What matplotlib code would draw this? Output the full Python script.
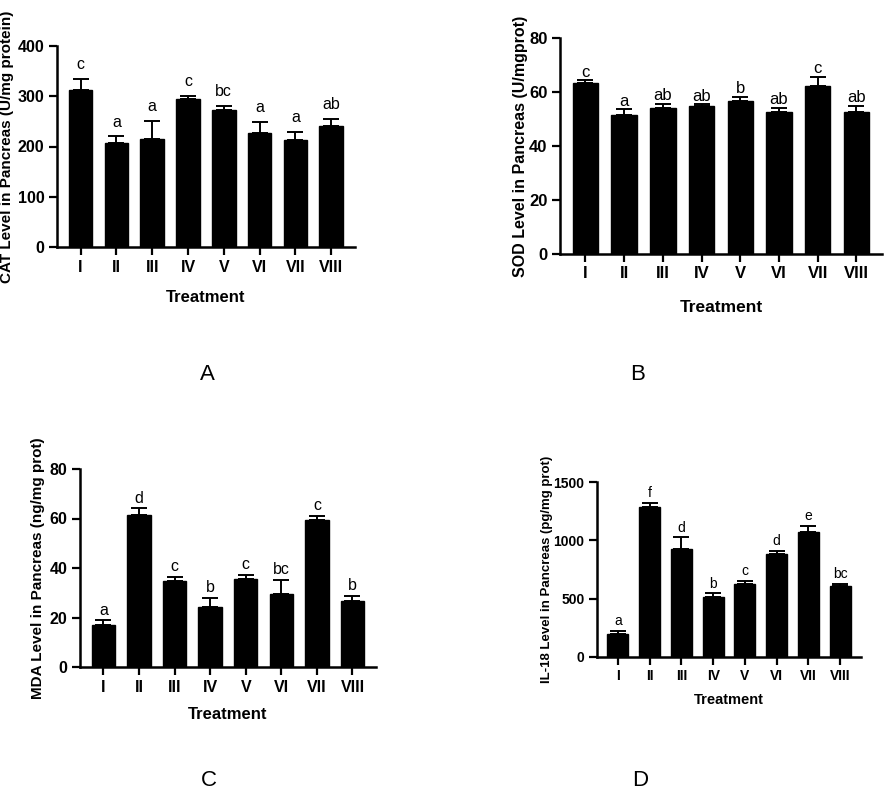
import matplotlib
matplotlib.use("Agg")
import matplotlib.pyplot as plt
import numpy as np

plt.rcParams['font.family'] = ['Liberation Sans', 'DejaVu Sans']

treatments = ['I', 'II', 'III', 'IV', 'V', 'VI', 'VII', 'VIII']

# CAT (U/mg protein)
cat_mean = [312, 207, 215, 294, 272, 226, 213, 241]
cat_err = [22, 13, 35, 7, 9, 22, 16, 13]
cat_letters = ['c', 'a', 'a', 'c', 'bc', 'a', 'a', 'ab']

# SOD (U/mgprot)
sod_mean = [63.5, 51.5, 54.1, 55.0, 56.8, 52.7, 62.2, 52.5]
sod_err = [0.8, 2.1, 1.5, 0.4, 1.5, 1.5, 3.5, 2.5]
sod_letters = ['c', 'a', 'ab', 'ab', 'b', 'ab', 'c', 'ab']

# MDA (ng/mg prot)
mda_mean = [16.8, 61.4, 34.7, 24.4, 35.5, 29.5, 59.4, 26.5]
mda_err = [2.0, 2.7, 1.8, 3.6, 1.8, 5.6, 1.6, 2.2]
mda_letters = ['a', 'd', 'c', 'b', 'c', 'bc', 'c', 'b']

# IL-18 (pg/mg prot)
il18_mean = [200, 1290, 930, 515, 630, 880, 1072, 605]
il18_err = [25, 30, 95, 30, 23, 30, 50, 25]
il18_letters = ['a', 'f', 'd', 'b', 'c', 'd', 'e', 'bc']

fig = plt.figure(figsize=(8.86, 8.0), dpi=100)


def panel(rect, mean, err, letters, ylabel, ymax, ystep, fs, ylab_x, xlab_y, txt_off):
    ax = fig.add_axes(rect)
    x = np.arange(len(treatments))
    ax.bar(x, mean, width=0.66, color='black', edgecolor='black', zorder=2)
    # upper error bars only, like Prism
    ax.errorbar(x, mean, yerr=[np.zeros(len(mean)), err], fmt='none',
                ecolor='black', elinewidth=1.4, capsize=6, capthick=1.4, zorder=1)
    for xi, m, e, lab in zip(x, mean, err, letters):
        ax.annotate(lab, (xi, m + e), xytext=(0, txt_off), textcoords='offset points',
                    ha='center', va='bottom', fontsize=fs)
    ax.set_xlim(-0.66, len(treatments) - 0.34)
    ax.set_ylim(0, ymax)
    ax.set_yticks(np.arange(0, ymax + 1, ystep))
    ax.set_xticks(x)
    ax.set_xticklabels(treatments)
    for s in ['top', 'right']:
        ax.spines[s].set_visible(False)
    for s in ['left', 'bottom']:
        ax.spines[s].set_linewidth(1.8)
    ax.tick_params(direction='out', length=6, width=1.6, labelsize=fs, pad=3)
    for t in ax.get_xticklabels() + ax.get_yticklabels():
        t.set_fontweight('bold')
    ax.set_xlabel('Treatment', fontsize=fs + 0.5, fontweight='bold')
    ax.xaxis.label.set_va('center')
    ax.xaxis.set_label_coords(0.5, xlab_y)
    ax.set_ylabel(ylabel, fontsize=fs - 0.5, fontweight='bold')
    ax.yaxis.label.set_va('center')
    ax.yaxis.set_label_coords(ylab_x, 0.5)
    return ax


panel([0.0643, 0.69125, 0.3363, 0.25125], cat_mean, cat_err, cat_letters,
      'CAT Level in Pancreas (U/mg protein)', 400, 100, 11.5, -0.168, -0.249, 5)
panel([0.632, 0.6825, 0.3634, 0.27], sod_mean, sod_err, sod_letters,
      'SOD Level in Pancreas (U/mgprot)', 80, 20, 12, -0.124, -0.25, 0.5)
panel([0.0903, 0.16625, 0.334, 0.2475], mda_mean, mda_err, mda_letters,
      'MDA Level in Pancreas (ng/mg prot)', 80, 20, 11.5, -0.142, -0.242, 2)
panel([0.6738, 0.17875, 0.298, 0.21875], il18_mean, il18_err, il18_letters,
      'IL-18 Level in Pancreas (pg/mg prot)', 1500, 500, 10, -0.189, -0.246, 2)

# panel letters
for lab, px, py in [('A', 207, 375), ('B', 638, 375), ('C', 209, 780), ('D', 640, 780)]:
    fig.text(px / 886, 1 - py / 800, lab, ha='center', va='center', fontsize=16)

fig.savefig('out.png', dpi=100)
